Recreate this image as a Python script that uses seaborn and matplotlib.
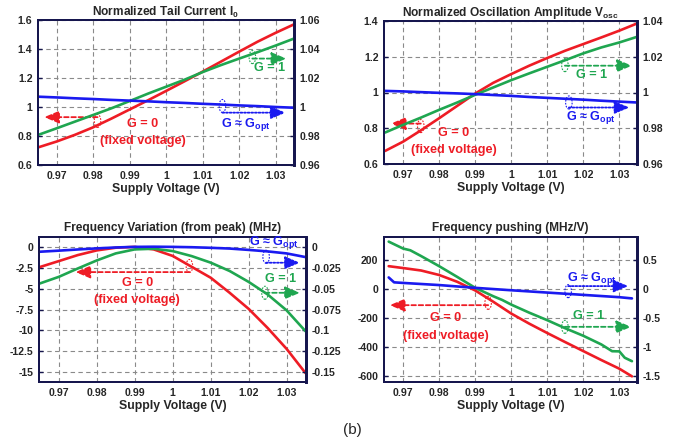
import matplotlib
matplotlib.use('Agg')
import matplotlib.pyplot as plt
import seaborn as sns
import pandas as pd
from matplotlib.patches import Ellipse
from matplotlib.transforms import ScaledTranslation

# ---------------- data ----------------
x_std = [0.965, 0.970, 0.975, 0.980, 0.985, 0.990, 0.995, 1.000,
         1.005, 1.010, 1.015, 1.020, 1.025, 1.030, 1.035]

# Panel 1: Normalized tail current
p1_red = [0.722, 0.762, 0.808, 0.860, 0.920, 0.983, 1.046, 1.111,
          1.177, 1.244, 1.313, 1.382, 1.450, 1.512, 1.570]          # left axis
p1_green = [0.9808, 0.9853, 0.9899, 0.9945, 0.9991, 1.0041, 1.0092, 1.0140,
            1.0188, 1.0241, 1.0289, 1.0334, 1.0378, 1.0424, 1.0472]  # right axis
p1_blue = [1.0071, 1.0066, 1.0060, 1.0055, 1.0049, 1.0044, 1.0039, 1.0033,
           1.0028, 1.0022, 1.0017, 1.0011, 1.0006, 1.0000, 0.9995]   # right axis

# Panel 2: Normalized oscillation amplitude
p2_red = [0.673, 0.725, 0.789, 0.856, 0.925, 0.994, 1.054, 1.103,
          1.150, 1.193, 1.234, 1.271, 1.308, 1.346, 1.387]
p2_green = [0.9776, 0.9819, 0.9860, 0.9903, 0.9944, 0.9987, 1.0028, 1.0069,
            1.0107, 1.0144, 1.0181, 1.0219, 1.0252, 1.0280, 1.0312]
p2_blue = [1.0009, 1.0006, 1.0002, 0.9998, 0.9995, 0.9991, 0.9986, 0.9981,
           0.9975, 0.9970, 0.9965, 0.9960, 0.9954, 0.9949, 0.9944]

# Panel 3: Frequency variation from peak (MHz)
p3_red = [-2.43, -1.72, -1.00, -0.44, -0.12, -0.02, -0.32, -1.10,
          -2.40, -3.70, -5.50, -7.42, -9.70, -12.20, -15.10]
p3_green = [-0.0439, -0.0360, -0.0260, -0.0164, -0.0080, -0.0032, -0.0024, -0.0052,
            -0.0112, -0.0190, -0.0290, -0.0420, -0.0570, -0.0760, -0.1010]
p3_blue = [-0.0060, -0.0047, -0.0033, -0.0020, -0.0009, -0.0002, 0.0000, -0.0002,
           -0.0006, -0.0013, -0.0022, -0.0038, -0.0056, -0.0080, -0.0124]

# Panel 4: Frequency pushing (MHz/V)
p4_red_x = [0.966, 0.970, 0.975, 0.980, 0.985, 0.990, 0.995, 1.000,
            1.005, 1.010, 1.015, 1.020, 1.025, 1.030, 1.0335]
p4_red = [158, 145, 128, 97, 50, -10, -88, -170,
          -240, -305, -368, -430, -492, -552, -605]
p4_green_x = [0.966, 0.970, 0.972, 0.975, 0.980, 0.985, 0.990, 0.995, 0.9975,
              1.000, 1.005, 1.010, 1.015, 1.020, 1.025, 1.028, 1.030, 1.0315, 1.0335]
p4_green = [0.82, 0.70, 0.67, 0.57, 0.395, 0.21, 0.02, -0.125, -0.19,
            -0.27, -0.41, -0.54, -0.68, -0.81, -0.96, -1.077, -1.08, -1.19, -1.25]
p4_blue_x = [0.966, 0.9675, 0.970, 0.980, 0.990, 1.000, 1.010, 1.020, 1.030, 1.0335]
p4_blue = [0.20, 0.115, 0.105, 0.068, 0.020, -0.022, -0.062, -0.102, -0.142, -0.163]

# tick values / labels
x_ticks = [0.97, 0.98, 0.99, 1.00, 1.01, 1.02, 1.03]
x_ticklabels = ['0.97', '0.98', '0.99', '1', '1.01', '1.02', '1.03']
p1_lticks = [0.6, 0.8, 1.0, 1.2, 1.4, 1.6]
p1_llabels = ['0.6', '0.8', '1', '1.2', '1.4', '1.6']
p1_rticks = [0.96, 0.98, 1.0, 1.02, 1.04, 1.06]
p1_rlabels = ['0.96', '0.98', '1', '1.02', '1.04', '1.06']
p2_lticks = [0.6, 0.8, 1.0, 1.2, 1.4]
p2_llabels = ['0.6', '0.8', '1', '1.2', '1.4']
p2_rticks = [0.96, 0.98, 1.0, 1.02, 1.04]
p2_rlabels = ['0.96', '0.98', '1', '1.02', '1.04']
p3_lticks = [0, -2.5, -5, -7.5, -10, -12.5, -15]
p3_llabels = ['0', '-2.5', '-5', '-7.5', '-10', '-12.5', '-15']
p3_rticks = [0, -0.025, -0.05, -0.075, -0.1, -0.125, -0.15]
p3_rlabels = ['0', '-0.025', '-0.05', '-0.075', '-0.1', '-0.125', '-0.15']
p4_lticks = [200, 0, -200, -400, -600]
p4_llabels = ['200', '0', '-200', '-400', '-600']
p4_rticks = [0.5, 0, -0.5, -1, -1.5]
p4_rlabels = ['0.5', '0', '-0.5', '-1', '-1.5']

titles = ['Normalized Tail Current I$_{0}$',
          'Normalized Oscillation Amplitude V$_{osc}$',
          'Frequency Variation (from peak) (MHz)',
          'Frequency pushing (MHz/V)']
xlabel = 'Supply Voltage (V)'
lab_g0 = 'G = 0'
lab_g0b = '(fixed voltage)'
lab_g1 = 'G = 1'
lab_gopt = 'G \u2248 G$_{opt}$'

# ---------------- style ----------------
sns.set_style('white')
plt.rcParams['font.family'] = ['Liberation Sans', 'DejaVu Sans']
plt.rcParams['font.weight'] = 'bold'
plt.rcParams['mathtext.fontset'] = 'custom'
plt.rcParams['mathtext.rm'] = 'Liberation Sans:bold'
plt.rcParams['mathtext.bf'] = 'Liberation Sans:bold'
plt.rcParams['mathtext.it'] = 'Liberation Sans:bold'
plt.rcParams['axes.unicode_minus'] = False

RED = '#ee1c25'
GREEN = '#1fa650'
BLUE = '#1a1af0'
SPINE = '#16164e'

W, H = 689, 443
fig = plt.figure(figsize=(W / 100, H / 100), dpi=100)


def make_axes(px):
    l, t, r, b = px
    return fig.add_axes([l / W, 1 - b / H, (r - l) / W, (b - t) / H])


def style(ax, ax2, xlim, ylim_l, ylim_r, lt, ll, rt, rl, title, tpad):
    ax.set_xlim(*xlim)
    ax.set_ylim(*ylim_l)
    ax2.set_ylim(*ylim_r)
    ax.set_xticks(x_ticks)
    ax.set_xticklabels(x_ticklabels)
    ax.set_yticks(lt)
    ax.set_yticklabels(ll)
    ax2.set_yticks(rt)
    ax2.set_yticklabels(rl)
    ax.grid(True, color='#8a8a8a', linestyle=(0, (4, 3)), linewidth=0.8)
    ax2.grid(False)
    ax.set_axisbelow(True)
    for a in (ax, ax2):
        a.tick_params(direction='in', length=3, width=1, labelsize=7.6,
                      color=SPINE, pad=4)
        for s in a.spines.values():
            s.set_color(SPINE)
            s.set_linewidth(1.4)
        a.spines['right'].set_linewidth(2.0)
        a.set_ylabel('')
        a.set_xlabel('')
    ax.set_xlabel(xlabel, fontsize=8.8, fontweight='bold', labelpad=2)
    ax.set_title(title, fontsize=8.6, fontweight='bold', pad=tpad)


def curve(ax, xs, ys, color):
    df = pd.DataFrame({'x': xs, 'y': ys})
    sns.lineplot(data=df, x='x', y='y', ax=ax, color=color, linewidth=1.9,
                 legend=False, estimator=None)


def marker(ax, x, y, color, ls, x_to, ycirc=None, w=0.065, h=0.13):
    yc = y if ycirc is None else ycirc
    tr = fig.dpi_scale_trans + ScaledTranslation(x, yc, ax.transData)
    ax.add_patch(Ellipse((0, 0), w, h, transform=tr, fill=False,
                         edgecolor=color, linewidth=0.8, linestyle=(0, (1.5, 1.2)),
                         zorder=6))
    ax.annotate('', xy=(x_to, y), xytext=(x, y),
                arrowprops=dict(arrowstyle='-|>,head_length=1.0,head_width=0.42',
                                color=color, lw=1.3, linestyle=ls,
                                shrinkA=0, shrinkB=0, mutation_scale=9),
                zorder=6)


def label(ax, x, y, s, color, fs=9.1):
    ax.text(x, y, s, color=color, ha='center', va='center', fontsize=fs,
            fontweight='bold', zorder=7)


DASH = (0, (2.5, 1.5))
DOT = (0, (1.0, 1.0))

# ---------------- panel 1 ----------------
ax = make_axes((38, 20, 294, 165))
ax2 = ax.twinx()
curve(ax, x_std, p1_red, RED)
curve(ax2, x_std, p1_green, GREEN)
curve(ax2, x_std, p1_blue, BLUE)
style(ax, ax2, (0.9649, 1.035), (0.6, 1.6), (0.96, 1.06),
      p1_lticks, p1_llabels, p1_rticks, p1_rlabels, titles[0], 3)
marker(ax, 0.9812, 0.930, RED, DASH, 0.9666, ycirc=0.904)
label(ax, 0.9935, 0.885, lab_g0, RED)
label(ax, 0.9935, 0.766, lab_g0b, RED)
marker(ax2, 1.0236, 1.0334, GREEN, DASH, 1.0329, ycirc=1.0344)
label(ax2, 1.0282, 1.0266, lab_g1, GREEN)
marker(ax2, 1.0154, 0.9961, BLUE, DOT, 1.0327, ycirc=1.0007)
label(ax2, 1.0218, 0.9876, lab_gopt, BLUE)

# ---------------- panel 2 ----------------
ax = make_axes((384, 21, 637, 164))
ax2 = ax.twinx()
curve(ax, x_std, p2_red, RED)
curve(ax2, x_std, p2_green, GREEN)
curve(ax2, x_std, p2_blue, BLUE)
style(ax, ax2, (0.9647, 1.0349), (0.6, 1.4), (0.96, 1.04),
      p2_lticks, p2_llabels, p2_rticks, p2_rlabels, titles[1], 3)
marker(ax, 0.9749, 0.826, RED, DASH, 0.9666, ycirc=0.812)
label(ax, 0.9841, 0.776, lab_g0, RED)
label(ax, 0.9841, 0.677, lab_g0b, RED)
marker(ax2, 1.0149, 1.0150, GREEN, DASH, 1.0335, ycirc=1.0153)
label(ax2, 1.0224, 1.0099, lab_g1, GREEN)
marker(ax2, 1.0160, 0.9916, BLUE, DOT, 1.0328, ycirc=0.9944)
label(ax2, 1.0220, 0.9860, lab_gopt, BLUE)

# ---------------- panel 3 ----------------
ax = make_axes((39, 237, 306, 382))
ax2 = ax.twinx()
curve(ax, x_std, p3_red, RED)
curve(ax2, x_std, p3_green, GREEN)
curve(ax2, x_std, p3_blue, BLUE)
style(ax, ax2, (0.9648, 1.0351), (-16.15, 1.16), (-0.1615, 0.0116),
      p3_lticks, p3_llabels, p3_rticks, p3_rlabels, titles[2], 4)
marker(ax, 1.0044, -3.03, RED, DASH, 0.9744, ycirc=-2.3)
label(ax, 0.9907, -4.31, lab_g0, RED)
label(ax, 0.9907, -6.42, lab_g0b, RED)
marker(ax2, 1.0243, -0.055, GREEN, DASH, 1.0335)
label(ax2, 1.0285, -0.0383, lab_g1, GREEN)
marker(ax2, 1.0246, -0.0191, BLUE, DOT, 1.0335, ycirc=-0.012)
label(ax2, 1.0265, 0.0045, lab_gopt, BLUE)

# ---------------- panel 4 ----------------
ax = make_axes((384, 237, 637, 382))
ax2 = ax.twinx()
curve(ax, p4_red_x, p4_red, RED)
curve(ax2, p4_green_x, p4_green, GREEN)
curve(ax2, p4_blue_x, p4_blue, BLUE)
style(ax, ax2, (0.9647, 1.0349), (-644, 360), (-1.61, 0.90),
      p4_lticks, p4_llabels, p4_rticks, p4_rlabels, titles[3], 4)
marker(ax, 0.9936, -112, RED, DASH, 0.9663, ycirc=-96)
label(ax, 0.9818, -200, lab_g0, RED)
label(ax, 0.9818, -323, lab_g0b, RED)
marker(ax2, 1.0149, -0.655, GREEN, DASH, 1.0333)
label(ax2, 1.0215, -0.47, lab_g1, GREEN)
marker(ax2, 1.0158, 0.05, BLUE, DOT, 1.0325, ycirc=-0.0375)
label(ax2, 1.0224, 0.19, lab_gopt, BLUE)

fig.text(352 / W, 1 - 430 / H, '(b)', ha='center', va='center',
         fontsize=11, fontweight='normal')

fig.savefig('out.png', dpi=100)
